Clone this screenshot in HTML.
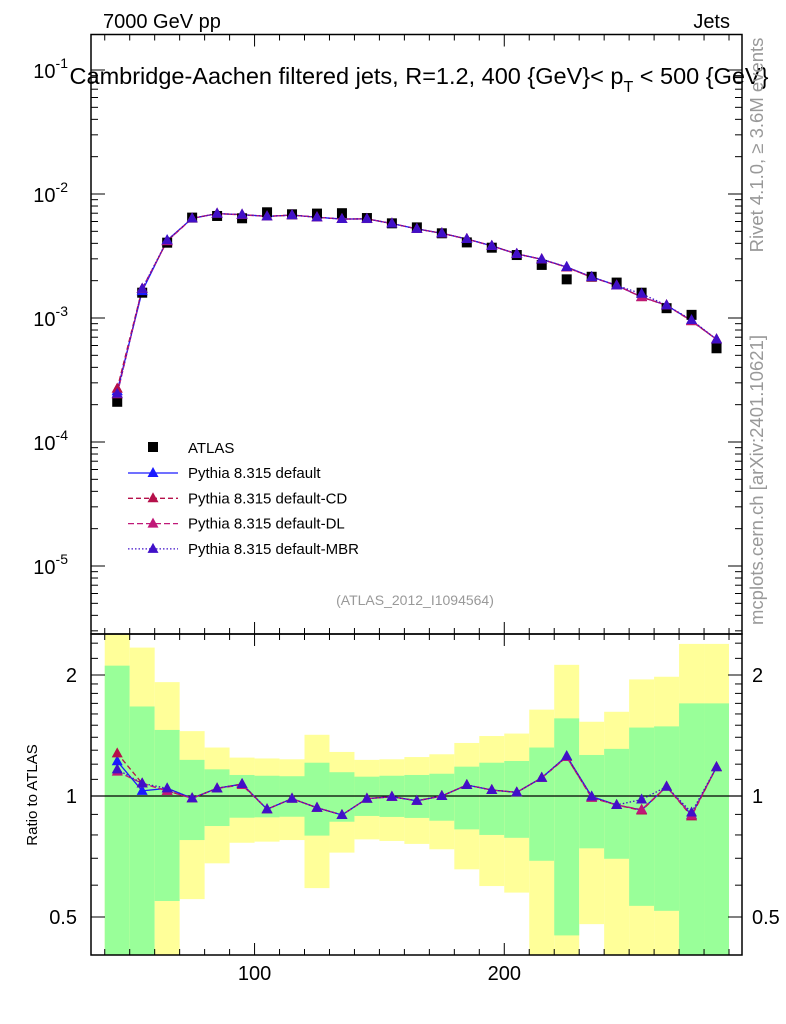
<!DOCTYPE html>
<html><head><meta charset="utf-8"><style>
html,body{margin:0;padding:0;background:#fff;}
svg{display:block;font-family:"Liberation Sans",sans-serif;}
</style></head><body>
<svg id="chart" width="786" height="1024" viewBox="0 0 786 1024" xmlns="http://www.w3.org/2000/svg"></svg>
<script>
// ---- data ----
const binEdges = [40,50,60,70,80,90,100,110,120,130,140,150,160,170,180,190,200,210,220,230,240,250,260,270,280,290];
const atlasValues = [2.11e-4,1.6e-3,4.05e-3,6.45e-3,6.65e-3,6.37e-3,7.12e-3,6.86e-3,6.95e-3,7.0e-3,6.4e-3,5.8e-3,5.38e-3,4.82e-3,4.07e-3,3.69e-3,3.22e-3,2.68e-3,2.05e-3,2.15e-3,1.93e-3,1.6e-3,1.2e-3,1.06e-3,5.7e-4];
const ratioDefault = [1.22,1.03,1.045,0.987,1.045,1.071,0.927,0.985,0.935,0.897,0.985,0.996,0.973,1.0,1.065,1.035,1.021,1.11,1.257,0.997,0.95,0.923,1.055,0.897,1.18];
const ratioCD      = [1.277,1.075,1.03,0.987,1.045,1.071,0.927,0.985,0.935,0.897,0.985,0.996,0.973,1.0,1.065,1.035,1.021,1.11,1.25,0.99,0.95,0.92,1.055,0.89,1.18];
const ratioDL      = [1.15,1.075,1.03,0.987,1.045,1.065,0.927,0.985,0.935,0.897,0.985,0.996,0.973,1.0,1.065,1.035,1.021,1.11,1.25,0.99,0.95,0.925,1.055,0.895,1.18];
const ratioMBR     = [1.165,1.075,1.045,0.987,1.045,1.071,0.927,0.985,0.935,0.897,0.985,0.996,0.973,1.0,1.065,1.035,1.021,1.11,1.257,0.997,0.95,0.98,1.055,0.91,1.18];
const greenUpper  = [2.11,1.67,1.46,1.23,1.165,1.128,1.123,1.12,1.21,1.146,1.117,1.123,1.128,1.136,1.183,1.21,1.222,1.32,1.56,1.265,1.31,1.48,1.49,1.70,1.70];
const greenLower  = [0.3,0.3,0.548,0.777,0.842,0.883,0.885,0.888,0.797,0.863,0.892,0.887,0.882,0.868,0.826,0.8,0.787,0.69,0.45,0.741,0.698,0.533,0.518,0.3,0.3];
const yellowUpper = [2.6,2.34,1.92,1.45,1.32,1.246,1.24,1.234,1.42,1.287,1.23,1.234,1.25,1.27,1.355,1.41,1.43,1.64,2.12,1.53,1.62,1.95,1.98,2.39,2.39];
const yellowLower = [0.3,0.3,0.3,0.554,0.68,0.765,0.77,0.777,0.59,0.723,0.78,0.773,0.76,0.737,0.657,0.597,0.575,0.3,0.3,0.48,0.3,0.3,0.3,0.3,0.3];
const xTickMajor = [100,200];
const mainTickExps = [-1,-2,-3,-4,-5];
const ratioTickLabels = [0.5,1,2];

// ---- geometry ----
const L=91,R=742,MT=34.5,MB=634,RT=634,RB=955;
const XMIN=34.5,XMAX=295.2;
function sx(v){return L+(v-XMIN)/(XMAX-XMIN)*(R-L);}
function sy(v){return 194-124*(Math.log10(v)+2);}
function ry(r){return 796-121*Math.log2(r);}
const svg=document.getElementById('chart');
const NS='http://www.w3.org/2000/svg';
function mk(tag,attrs,parent){const e=document.createElementNS(NS,tag);for(const k in attrs)e.setAttribute(k,attrs[k]);(parent||svg).appendChild(e);return e;}
function clampR(r){return Math.min(RB,Math.max(RT,ry(r)));}

// ---- ratio bands ----
const bands=mk('g',{});


for(let i=0;i<atlasValues.length;i++){
  const x0=sx(binEdges[i]),x1=sx(binEdges[i+1]);
  const yu=clampR(yellowUpper[i]),yl=clampR(yellowLower[i]);
  const ye=mk('rect',{x:x0,y:yu,width:x1-x0,height:yl-yu,fill:'#ffff99'},bands);
  
  
  const gu=clampR(greenUpper[i]),gl=clampR(greenLower[i]);
  const g=mk('rect',{x:x0,y:gu,width:x1-x0,height:gl-gu,fill:'#99ff99'},bands);
  
  
}
const one=mk('line',{x1:L,x2:R,y1:ry(1),y2:ry(1),stroke:'#000','stroke-width':1.2});



// ---- frames ----
for(const [t,b,n] of [[MT,MB,'main-frame'],[RT,RB,'ratio-frame']]){
  const f=mk('rect',{x:L,y:t,width:R-L,height:b-t,fill:'none',stroke:'#000','stroke-width':1.5});
  
  
}
// ---- x ticks ----
const ticks=mk('g',{stroke:'#000','stroke-width':1});


for(let v=40;v<=290;v+=10){
  const x=sx(v),maj=xTickMajor.includes(v),len=maj?12:6;
  for(const [t,b] of [[MT,MB],[RT,RB]]){
    mk('line',{x1:x,x2:x,y1:t,y2:t+len},ticks);
    mk('line',{x1:x,x2:x,y1:b,y2:b-len},ticks);
  }
}
// main y ticks
for(let e=-6;e<=-1;e++){
  for(let m=1;m<10;m++){
    const v=m*Math.pow(10,e),y=sy(v);
    if(y<MT||y>MB)continue;
    const len=m===1?14:7;
    mk('line',{x1:L,x2:L+len,y1:y,y2:y},ticks);
    mk('line',{x1:R,x2:R-len,y1:y,y2:y},ticks);
  }
}
// ratio y ticks
const rt=[];for(let r=0.4;r<=2.001;r+=0.1)rt.push(+r.toFixed(1));rt.push(2.2,2.4);
for(const r of rt){const y=ry(r);if(y<RT||y>RB)continue;
  const len=ratioTickLabels.includes(r)?14:7;
  mk('line',{x1:L,x2:L+len,y1:y,y2:y},ticks);
  mk('line',{x1:R,x2:R-len,y1:y,y2:y},ticks);
}
// ---- labels ----
function txt(s,attrs,name){const t=mk('text',attrs);t.textContent=s;return t;}
for(const v of xTickMajor){txt(String(v),{x:sx(v),y:980,'font-size':20,'text-anchor':'middle'},'x-tick-label');}
for(const e of mainTickExps){
  const t=mk('text',{x:68,y:sy(Math.pow(10,e))+8,'font-size':20,'text-anchor':'end'});
  
  
  t.textContent='10';
  const s=mk('tspan',{dy:-10,'font-size':14},t);s.textContent=String(e);
}
for(const r of ratioTickLabels){
  txt(String(r),{x:77,y:ry(r)+7,'font-size':20,'text-anchor':'end'},'ratio-tick-label-left');
  txt(String(r),{x:752,y:ry(r)+7,'font-size':20},'ratio-tick-label-right');
}
txt('7000 GeV pp',{x:103,y:28,'font-size':20},'energy-label');
txt('Jets',{x:730,y:28,'font-size':20,'text-anchor':'end'},'process-label');
const title=mk('text',{x:419,y:84,'font-size':23.5,'text-anchor':'middle'});


title.textContent='Cambridge-Aachen filtered jets, R=1.2, 400 {GeV}< p';
const sub=mk('tspan',{dy:8,'font-size':16},title);sub.textContent='T';
const rest=mk('tspan',{dy:-8},title);rest.textContent=' < 500 {GeV}';
txt('(ATLAS_2012_I1094564)',{x:415,y:605,'font-size':14,fill:'#999','text-anchor':'middle'},'analysis-id');
txt('Rivet 4.1.0, ≥ 3.6M events',{x:0,y:0,'font-size':18.5,fill:'#999','text-anchor':'middle',transform:'translate(763,145) rotate(-90)'},'rivet-version');
txt('mcplots.cern.ch [arXiv:2401.10621]',{x:0,y:0,'font-size':18.5,fill:'#999','text-anchor':'middle',transform:'translate(763,480) rotate(-90)'},'mcplots-credit');
txt('Ratio to ATLAS',{x:0,y:0,'font-size':15,'text-anchor':'middle',transform:'translate(37,795) rotate(-90)'},'ratio-y-axis-title');

// ---- series ----
const series=[
 {name:'default',ratio:ratioDefault,color:'#1a1aff',dash:''},
 {name:'default-cd',ratio:ratioCD,color:'#b5104a',dash:'5,3'},
 {name:'default-dl',ratio:ratioDL,color:'#c01878',dash:'6,3'},
 {name:'default-mbr',ratio:ratioMBR,color:'#4010c8',dash:'1.5,2'}
];
function tri(g,x,y,c,name){const p=mk('polygon',{points:`${x},${y-6} ${x-5.5},${y+4} ${x+5.5},${y+4}`,fill:c},g);}
for(const s of series){
  const g=mk('g',{});
  
  
  const mp=[],rp=[];
  for(let i=0;i<atlasValues.length;i++){
    const x=sx((binEdges[i]+binEdges[i+1])/2);
    mp.push([x,sy(atlasValues[i]*s.ratio[i])]);
    rp.push([x,ry(s.ratio[i])]);
  }
  for(const pts of [mp,rp]){
    const pl=mk('polyline',{points:pts.map(p=>p.join(',')).join(' '),fill:'none',stroke:s.color,'stroke-width':1.3,'stroke-dasharray':s.dash},g);
    
    
    for(const p of pts)tri(g,p[0],p[1],s.color,'series-marker');
  }
}
// ATLAS points
const ag=mk('g',{});


for(let i=0;i<atlasValues.length;i++){
  const x=sx((binEdges[i]+binEdges[i+1])/2),y=sy(atlasValues[i]);
  const r=mk('rect',{x:x-5,y:y-5,width:10,height:10,fill:'#000'},ag);
  
  
}
for(const s of series){
  const g=mk('g',{});
  
  
  for(let i=0;i<atlasValues.length;i++){
    tri(g,sx((binEdges[i]+binEdges[i+1])/2),sy(atlasValues[i]*s.ratio[i]),s.color,'series-marker');
  }
}
// ---- legend ----
const lg=mk('g',{});


const lr=mk('rect',{x:148,y:442,width:10,height:10,fill:'#000'},lg);


const lt=mk('text',{x:188,y:453,'font-size':15},lg);lt.textContent='ATLAS';


const labels=['Pythia 8.315 default','Pythia 8.315 default-CD','Pythia 8.315 default-DL','Pythia 8.315 default-MBR'];
series.forEach((s,k)=>{
  const y=473+k*25.3;
  const l=mk('line',{x1:128,x2:178,y1:y,y2:y,stroke:s.color,'stroke-width':1.3,'stroke-dasharray':s.dash},lg);
  
  
  tri(lg,153,y,s.color,'legend-marker');
  const t=mk('text',{x:188,y:y+5,'font-size':15},lg);t.textContent=labels[k];
  
  
});
</script>
</body></html>
